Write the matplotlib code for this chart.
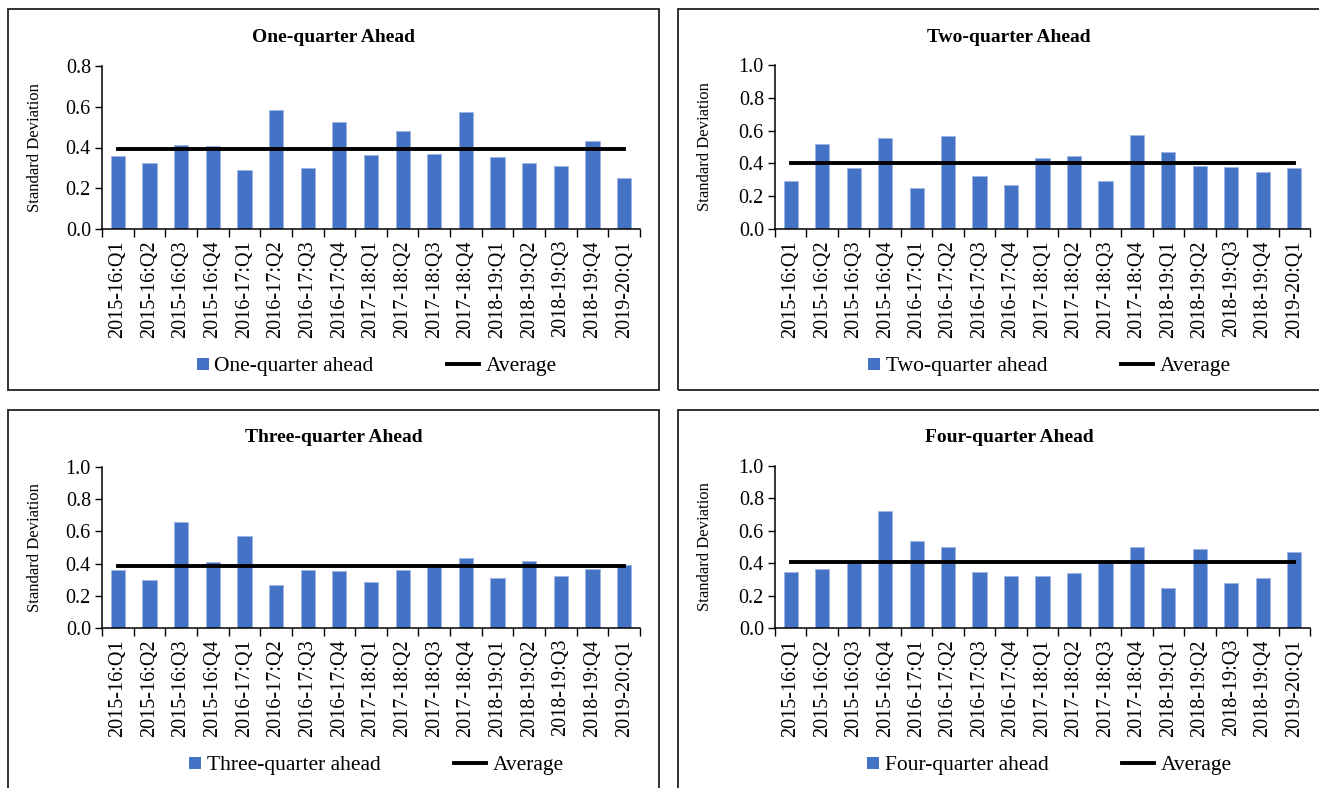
import matplotlib
matplotlib.use('Agg')
import matplotlib.pyplot as plt
from matplotlib.patches import Rectangle
from matplotlib.lines import Line2D

plt.rcParams['font.family'] = ['Liberation Serif', 'DejaVu Serif']

quarters = ['2015-16:Q1', '2015-16:Q2', '2015-16:Q3', '2015-16:Q4',
            '2016-17:Q1', '2016-17:Q2', '2016-17:Q3', '2016-17:Q4',
            '2017-18:Q1', '2017-18:Q2', '2017-18:Q3', '2017-18:Q4',
            '2018-19:Q1', '2018-19:Q2', '2018-19:Q3', '2018-19:Q4',
            '2019-20:Q1']

one_q = [0.356, 0.323, 0.410, 0.407, 0.289, 0.582, 0.297, 0.523, 0.362,
         0.482, 0.367, 0.572, 0.351, 0.323, 0.311, 0.434, 0.252]
two_q = [0.291, 0.520, 0.369, 0.555, 0.248, 0.566, 0.324, 0.270, 0.432,
         0.447, 0.291, 0.574, 0.467, 0.383, 0.379, 0.348, 0.373]
three_q = [0.363, 0.299, 0.660, 0.408, 0.571, 0.264, 0.359, 0.355, 0.285,
           0.359, 0.380, 0.433, 0.313, 0.416, 0.324, 0.367, 0.392]
four_q = [0.348, 0.367, 0.405, 0.720, 0.536, 0.497, 0.348, 0.324, 0.324,
          0.342, 0.404, 0.497, 0.249, 0.487, 0.280, 0.307, 0.468]

averages = [0.393, 0.402, 0.388, 0.406]
titles = ['One-quarter Ahead', 'Two-quarter Ahead',
          'Three-quarter Ahead', 'Four-quarter Ahead']
series_names = ['One-quarter ahead', 'Two-quarter ahead',
                'Three-quarter ahead', 'Four-quarter ahead']
ymaxes = [0.8, 1.0, 1.0, 1.0]

BLUE = '#4472C4'
W, H = 1319, 788

# legend square pushed to the right side of its handle box
SQUARE = [(0.3, -0.35), (1.0, -0.35), (1.0, 0.35), (0.3, 0.35), (0.3, -0.35)]

fig = plt.figure(figsize=(W / 100, H / 100), dpi=100)


def fx(px):
    return px / W


def fy(py):
    return 1 - py / H


# panel frames (left, top, right, bottom) in pixels
boxes = [(8, 9, 659, 390), (678, 9, 1340, 390),
         (8, 410, 659, 800), (678, 410, 1340, 800)]
# axes (left, right, y of 0, y of top)
axes_px = [(102, 640, 229, 66), (775, 1310, 229, 65),
           (102, 640, 628, 467), (775, 1310, 628, 466)]

data = [one_q, two_q, three_q, four_q]
x = list(range(len(quarters)))

for i in range(4):
    bl, bt, br, bb = boxes[i]
    fig.add_artist(Rectangle((fx(bl), fy(bb)), fx(br - bl), (bb - bt) / H,
                             transform=fig.transFigure, fill=False,
                             edgecolor='#222222', linewidth=1.3))
    l, r, y0, y1 = axes_px[i]
    ax = fig.add_axes([fx(l), fy(y0), fx(r - l), (y0 - y1) / H])
    ax.bar(x, data[i], width=0.45, color=BLUE, edgecolor='#9DB5E0',
           linewidth=0.6)
    ax.plot(x, [averages[i]] * len(x), color='black', linewidth=2.8)
    ax.set_xlim(-0.5, len(x) - 0.5)
    ax.set_ylim(0, ymaxes[i])
    n = int(round(ymaxes[i] / 0.2)) + 1
    ax.set_yticks([k * 0.2 for k in range(n)])
    ax.set_yticklabels(['%.1f' % (k * 0.2) for k in range(n)], fontsize=14.5)
    ax.set_xticks(x)
    ax.set_xticklabels(quarters, rotation=90, fontsize=14.5)
    ax.set_xticks([k - 0.5 for k in range(len(x) + 1)], minor=True)
    ax.tick_params(axis='x', which='major', length=0, pad=8)
    ax.tick_params(axis='x', which='minor', length=6, width=1, direction='out')
    ax.tick_params(axis='y', length=5, width=1, pad=3)
    for s in ['top', 'right']:
        ax.spines[s].set_visible(False)
    for s in ['left', 'bottom']:
        ax.spines[s].set_linewidth(1.1)
    ax.patch.set_alpha(0)

    fig.text(fx((bl + br) / 2), fy(bt + 28), titles[i], ha='center',
             va='center', fontsize=14, fontweight='bold')
    fig.text(fx(bl + 27), fy((y0 + y1) / 2), 'Standard Deviation',
             rotation=90, ha='center', va='center', fontsize=12)

    handles = [Line2D([], [], marker=SQUARE, color=BLUE, linestyle='none',
                      markersize=25, markeredgewidth=0),
               Line2D([], [], color='black', linewidth=2.8)]
    fig.legend(handles, [series_names[i], 'Average'], ncol=2,
               loc='center', bbox_to_anchor=(fx(l + 264), fy(y0 + 137)),
               frameon=False, fontsize=15.5, handlelength=1.5,
               handletextpad=0.3, columnspacing=3.4)

fig.savefig('out.png', dpi=100)
